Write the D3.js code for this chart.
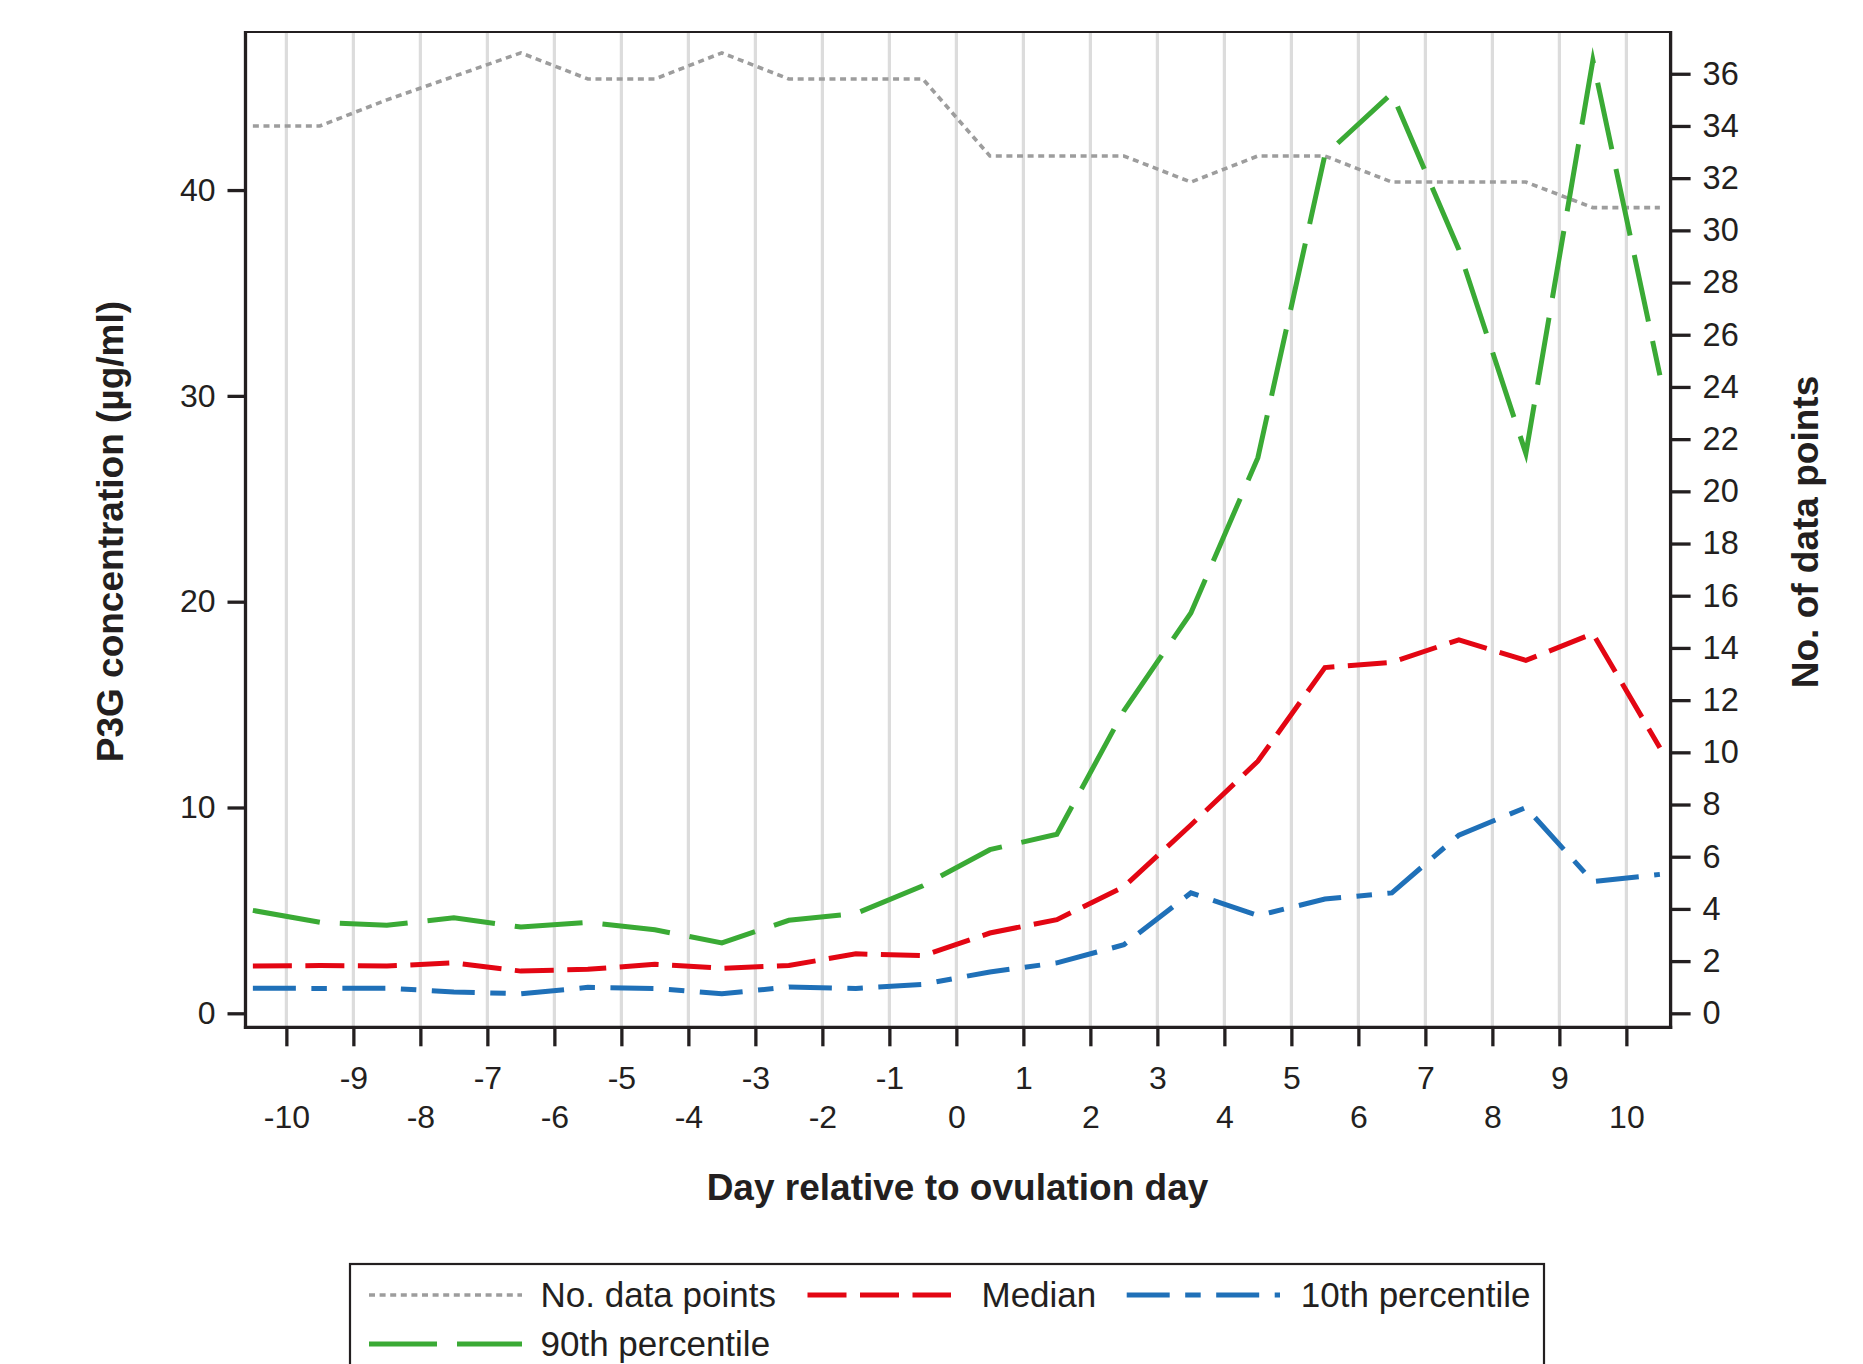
<!DOCTYPE html>
<html>
<head>
<meta charset="utf-8">
<script src="https://cdn.jsdelivr.net/npm/d3@7"></script>
<style>
  html, body { margin: 0; padding: 0; background: #ffffff; }
  svg { display: block; }
  text { font-family: "Liberation Sans", Arial, Helvetica, sans-serif; fill: #231f20; }
</style>
</head>
<body>
<script>
// ---------------- data ----------------
const days = [-10.5, -9.5, -8.5, -7.5, -6.5, -5.5, -4.5, -3.5, -2.5, -1.5, -0.5,
              0.5, 1.5, 2.5, 3.5, 4.5, 5.5, 6.5, 7.5, 8.5, 9.5, 10.5];
const nDataPoints = [34, 34, 35, 35.9, 36.8, 35.8, 35.8, 36.8, 35.8, 35.8, 35.8,
                     32.85, 32.85, 32.85, 31.85, 32.85, 32.85, 31.85, 31.85, 31.85, 30.87, 30.87];
const median = [2.30, 2.32, 2.30, 2.45, 2.05, 2.14, 2.38, 2.19, 2.32, 2.89, 2.80,
                3.90, 4.55, 6.15, 9.15, 12.25, 16.8, 17.05, 18.15, 17.15, 18.45, 12.9];
const p10 = [1.22, 1.21, 1.22, 1.04, 0.95, 1.26, 1.21, 0.95, 1.28, 1.21, 1.41,
             2.01, 2.45, 3.33, 5.85, 4.75, 5.55, 5.85, 8.66, 10.0, 6.4, 6.75];
const p90 = [5.0, 4.42, 4.28, 4.64, 4.19, 4.42, 4.06, 3.42, 4.52, 4.85, 6.2,
             7.95, 8.7, 14.7, 19.45, 27.0, 41.7, 44.7, 37.1, 27.2, 46.3, 31.0];
const xTicks = [-10, -9, -8, -7, -6, -5, -4, -3, -2, -1, 0, 1, 2, 3, 4, 5, 6, 7, 8, 9, 10];
const leftTicks = [0, 10, 20, 30, 40];
const rightTicks = [0, 2, 4, 6, 8, 10, 12, 14, 16, 18, 20, 22, 24, 26, 28, 30, 32, 34, 36];
const seriesNames = ["No. data points", "Median", "10th percentile", "90th percentile"];

// ---------------- layout ----------------
const W = 1863, H = 1364;
const L = 245.5, R = 1670.6, T = 32, B = 1027.3;
const ink = "#231f20";
const styles = {
  "No. data points": { color: "#9d9d9d", width: 3.6, dash: "6,4.6", axis: "right" },
  "Median":          { color: "#e30613", width: 5, dash: "39,13.5", axis: "left" },
  "10th percentile": { color: "#1f70b8", width: 5, dash: "43,15.5,15.5,15.5", axis: "left" },
  "90th percentile": { color: "#3aaa35", width: 5, dash: "68,20", axis: "left" }
};
const seriesData = {
  "No. data points": nDataPoints,
  "Median": median,
  "10th percentile": p10,
  "90th percentile": p90
};

const svg = d3.select("body").append("svg").attr("width", W).attr("height", H);
svg.append("rect").attr("width", W).attr("height", H).attr("fill", "#fff");

const x = d3.scaleLinear().domain([-10.61, 10.66]).range([L, R]);
const yL = d3.scaleLinear().domain([-0.68, 47.68]).range([B, T]);
const yR = d3.scaleLinear().domain([-0.536, 37.6]).range([B, T]);

// vertical grid lines
svg.append("g").selectAll("line").data(xTicks).join("line")
  .attr("x1", d => x(d)).attr("x2", d => x(d))
  .attr("y1", T).attr("y2", B)
  .attr("stroke", "#dcdcdc").attr("stroke-width", 3.2);

// series lines
const drawOrder = ["No. data points", "90th percentile", "Median", "10th percentile"];
drawOrder.forEach(name => {
  const st = styles[name];
  const ys = st.axis === "right" ? yR : yL;
  const vals = seriesData[name];
  const line = d3.line().x((d, i) => x(days[i])).y(d => ys(d));
  svg.append("path").datum(vals)
    .attr("d", line)
    .attr("fill", "none")
    .attr("stroke", st.color)
    .attr("stroke-width", st.width)
    .attr("stroke-dasharray", st.dash)
    .attr("stroke-linejoin", "miter")
    .attr("stroke-miterlimit", 10);
});

// frame
svg.append("line").attr("x1", L).attr("x2", R).attr("y1", T).attr("y2", T)
  .attr("stroke", ink).attr("stroke-width", 2.2);

// axes
const fontTick = 32;
const gx = svg.append("g").attr("transform", `translate(0,${B})`)
  .call(d3.axisBottom(x).tickValues(xTicks).tickSize(19).tickPadding(0)
        .tickFormat(d => d < 0 ? "-" + Math.abs(d) : String(d)));
gx.select(".domain").attr("stroke", ink).attr("stroke-width", 3.3)
  .attr("d", `M${L - 1.6},0H${R + 1.6}`);
gx.selectAll(".tick line").attr("stroke", ink).attr("stroke-width", 3.3);
gx.selectAll(".tick text")
  .attr("font-size", fontTick).attr("fill", ink)
  .attr("dy", null)
  .attr("y", d => (Math.abs(d) % 2 === 1) ? 62 : 101);

const gl = svg.append("g").attr("transform", `translate(${L},0)`)
  .call(d3.axisLeft(yL).tickValues(leftTicks).tickSize(18).tickPadding(12));
gl.select(".domain").attr("stroke", ink).attr("stroke-width", 3.3)
  .attr("d", `M0,${T - 1}V${B + 1.6}`);
gl.selectAll(".tick line").attr("stroke", ink).attr("stroke-width", 3.3);
gl.selectAll(".tick text").attr("font-size", fontTick).attr("fill", ink);

const gr = svg.append("g").attr("transform", `translate(${R},0)`)
  .call(d3.axisRight(yR).tickValues(rightTicks).tickSize(20).tickPadding(12));
gr.select(".domain").attr("stroke", ink).attr("stroke-width", 3.3)
  .attr("d", `M0,${T - 1}V${B + 1.6}`);
gr.selectAll(".tick line").attr("stroke", ink).attr("stroke-width", 3.3);
gr.selectAll(".tick text").attr("font-size", 32.5).attr("fill", ink);

svg.selectAll(".tick text").style("font-family", "'Liberation Sans', Arial, sans-serif");

// axis titles
svg.append("text")
  .attr("transform", "translate(122.5,531.6) rotate(-90)")
  .attr("text-anchor", "middle").attr("font-size", 37).attr("font-weight", "bold")
  .text("P3G concentration (µg/ml)");
svg.append("text")
  .attr("transform", "translate(1818,532) rotate(-90)")
  .attr("text-anchor", "middle").attr("font-size", 37).attr("font-weight", "bold")
  .text("No. of data points");
svg.append("text")
  .attr("x", 957.5).attr("y", 1200)
  .attr("text-anchor", "middle").attr("font-size", 37).attr("font-weight", "bold")
  .text("Day relative to ovulation day");

// legend
const lg = svg.append("g");
lg.append("rect").attr("x", 350).attr("y", 1264).attr("width", 1194).attr("height", 140)
  .attr("fill", "none").attr("stroke", ink).attr("stroke-width", 2.2);
const legendPos = {
  "No. data points": { x1: 369, x2: 522, tx: 540.5, y: 1295 },
  "Median":          { x1: 807.5, x2: 951, tx: 981.5, y: 1295 },
  "10th percentile": { x1: 1126.7, x2: 1280, tx: 1300.8, y: 1295 },
  "90th percentile": { x1: 369, x2: 522, tx: 540.5, y: 1344 }
};
seriesNames.forEach(name => {
  const st = styles[name], p = legendPos[name];
  lg.append("line").attr("x1", p.x1).attr("x2", p.x2).attr("y1", p.y).attr("y2", p.y)
    .attr("stroke", st.color).attr("stroke-width", st.width)
    .attr("stroke-dasharray", st.dash);
  lg.append("text").attr("x", p.tx).attr("y", p.y + 11.5)
    .attr("font-size", 35).text(name);
});
</script>
</body>
</html>
